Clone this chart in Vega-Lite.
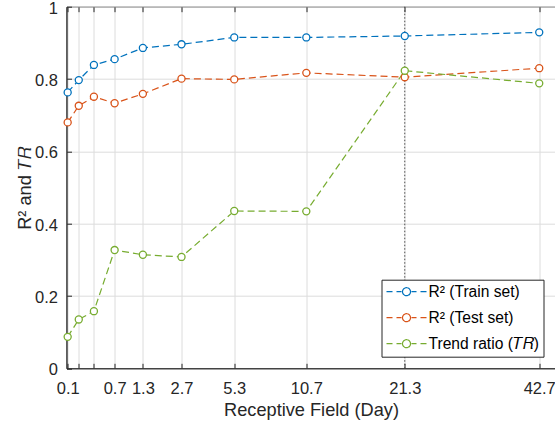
{
  "$schema": "https://vega.github.io/schema/vega-lite/v6.json",
  "autosize": {"type": "none"},
  "padding": {"left": 66.5, "top": 6.7, "right": 0, "bottom": 56.7},
  "width": 489,
  "height": 361.6,
  "config": {
    "font": "Liberation Sans",
    "view": {"stroke": "#262626", "strokeWidth": 1},
    "axis": {
      "domainColor": "#262626",
      "tickColor": "#262626",
      "labelColor": "#262626",
      "titleColor": "#262626",
      "gridColor": "#dcdcdc",
      "gridWidth": 1,
      "gridOpacity": 1,
      "labelFontSize": 16.5,
      "titleFontSize": 18.2,
      "titleFontWeight": "normal",
      "labelOverlap": false,
      "labelFlush": false,
      "labelBound": false,
      "tickSize": -5
    }
  },
  "resolve": {"axis": {"x": "independent"}},
  "layer": [
    {
      "data": {"values": [{"rf": 21.3333}]},
      "mark": {"type": "rule", "color": "#505050", "strokeDash": [1.5, 2], "strokeWidth": 1},
      "encoding": {
        "x": {
          "field": "rf", "type": "quantitative",
          "scale": {"type": "pow", "exponent": 0.45, "domain": [0.0763, 45.8], "zero": false, "nice": false},
          "axis": {
            "orient": "top", "title": null, "labels": false, "grid": false, "domain": false,
            "values": [0.0833, 0.1667, 0.3333, 0.6667, 1.3333, 2.6667, 5.3333, 10.6667, 21.3333, 42.6667]
          }
        }
      }
    },
    {
      "data": {
        "values": [
          {"rf": 0.0833, "series": "R² (Train set)", "value": 0.763},
          {"rf": 0.1667, "series": "R² (Train set)", "value": 0.797},
          {"rf": 0.3333, "series": "R² (Train set)", "value": 0.839},
          {"rf": 0.6667, "series": "R² (Train set)", "value": 0.855},
          {"rf": 1.3333, "series": "R² (Train set)", "value": 0.886},
          {"rf": 2.6667, "series": "R² (Train set)", "value": 0.896},
          {"rf": 5.3333, "series": "R² (Train set)", "value": 0.915},
          {"rf": 10.6667, "series": "R² (Train set)", "value": 0.915},
          {"rf": 21.3333, "series": "R² (Train set)", "value": 0.919},
          {"rf": 42.6667, "series": "R² (Train set)", "value": 0.929},
          {"rf": 0.0833, "series": "R² (Test set)", "value": 0.680},
          {"rf": 0.1667, "series": "R² (Test set)", "value": 0.726},
          {"rf": 0.3333, "series": "R² (Test set)", "value": 0.751},
          {"rf": 0.6667, "series": "R² (Test set)", "value": 0.733},
          {"rf": 1.3333, "series": "R² (Test set)", "value": 0.759},
          {"rf": 2.6667, "series": "R² (Test set)", "value": 0.801},
          {"rf": 5.3333, "series": "R² (Test set)", "value": 0.799},
          {"rf": 10.6667, "series": "R² (Test set)", "value": 0.817},
          {"rf": 21.3333, "series": "R² (Test set)", "value": 0.805},
          {"rf": 42.6667, "series": "R² (Test set)", "value": 0.830},
          {"rf": 0.0833, "series": "Trend ratio (𝑇𝑅)", "value": 0.087},
          {"rf": 0.1667, "series": "Trend ratio (𝑇𝑅)", "value": 0.135},
          {"rf": 0.3333, "series": "Trend ratio (𝑇𝑅)", "value": 0.158},
          {"rf": 0.6667, "series": "Trend ratio (𝑇𝑅)", "value": 0.327},
          {"rf": 1.3333, "series": "Trend ratio (𝑇𝑅)", "value": 0.314},
          {"rf": 2.6667, "series": "Trend ratio (𝑇𝑅)", "value": 0.308},
          {"rf": 5.3333, "series": "Trend ratio (𝑇𝑅)", "value": 0.435},
          {"rf": 10.6667, "series": "Trend ratio (𝑇𝑅)", "value": 0.434},
          {"rf": 21.3333, "series": "Trend ratio (𝑇𝑅)", "value": 0.823},
          {"rf": 42.6667, "series": "Trend ratio (𝑇𝑅)", "value": 0.788}
        ]
      },
      "mark": {
        "type": "line",
        "strokeWidth": 1.2,
        "strokeDash": [7, 4],
        "point": {"filled": false, "fill": "white", "size": 50, "strokeWidth": 1.3, "opacity": 1}
      },
      "encoding": {
        "x": {
          "field": "rf", "type": "quantitative",
          "scale": {"type": "pow", "exponent": 0.45, "domain": [0.0763, 45.8], "zero": false, "nice": false},
          "axis": {
            "orient": "bottom",
            "grid": true,
            "title": "Receptive Field (Day)",
            "values": [0.0833, 0.1667, 0.3333, 0.6667, 1.3333, 2.6667, 5.3333, 10.6667, 21.3333, 42.6667],
            "labelExpr": "datum.value < 0.1 ? '0.1' : (datum.value < 0.5 ? '' : format(datum.value, '.1f'))",
            "labelPadding": 17,
            "titlePadding": 5
          }
        },
        "y": {
          "field": "value", "type": "quantitative",
          "scale": {"domain": [0, 1], "nice": false},
          "axis": {
            "grid": true,
            "title": "R² and 𝑇𝑅",
            "values": [0, 0.2, 0.4, 0.6, 0.8, 1],
            "format": ".1~f",
            "labelPadding": 14,
            "labelOffset": 1.5,
            "titlePadding": 0
          }
        },
        "color": {
          "field": "series", "type": "nominal",
          "scale": {
            "domain": ["R² (Train set)", "R² (Test set)", "Trend ratio (𝑇𝑅)"],
            "range": ["#0072BD", "#D95319", "#77AC30"]
          },
          "legend": {
            "title": null,
            "orient": "bottom-right",
            "offset": 12,
            "symbolType": "M-1,0H-0.7M-0.5,0H-0.25M0.25,0H0.5M0.7,0H1M0.2,0A0.2,0.2 0 1 1 -0.2,0A0.2,0.2 0 1 1 0.2,0Z",
            "symbolSize": 1600,
            "symbolStrokeWidth": 1.2,
            "labelFontSize": 15.6,
            "labelColor": "#000000",
            "labelOffset": 1,
            "labelLimit": 300,
            "padding": 4,
            "rowPadding": 9,
            "clipHeight": 16,
            "strokeColor": "#262626",
            "fillColor": "white",
            "cornerRadius": 0,
            "encode": {
              "symbols": {"update": {"fill": {"value": "white"}, "strokeDash": {"value": [1, 0]}, "opacity": {"value": 1}}}
            }
          }
        }
      }
    }
  ]
}
